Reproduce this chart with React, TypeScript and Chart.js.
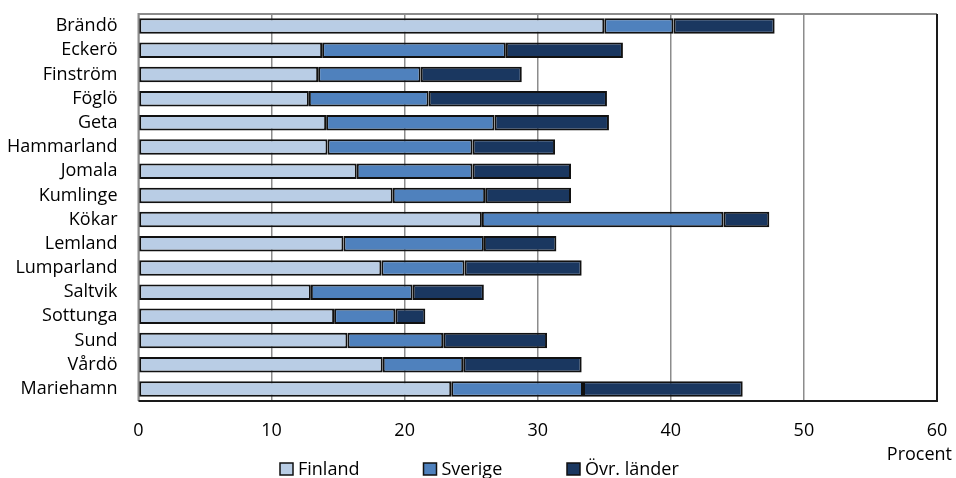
import React, { useEffect, useRef } from "react";
import { Chart, registerables } from "chart.js";

Chart.register(...registerables);

const categories = [
  "Brändö", "Eckerö", "Finström", "Föglö", "Geta", "Hammarland", "Jomala", "Kumlinge",
  "Kökar", "Lemland", "Lumparland", "Saltvik", "Sottunga", "Sund", "Vårdö", "Mariehamn",
];
const finland = [35.0, 13.8, 13.5, 12.8, 14.1, 14.2, 16.4, 19.1, 25.8, 15.4, 18.25, 12.95, 14.7, 15.7, 18.35, 23.5];
const sverige = [5.2, 13.8, 7.7, 9.0, 12.65, 10.9, 8.7, 6.95, 18.15, 10.55, 6.25, 7.65, 4.6, 7.2, 6.05, 9.9];
const ovrLander = [7.6, 8.8, 7.6, 13.4, 8.6, 6.2, 7.4, 6.45, 3.45, 5.45, 8.8, 5.35, 2.25, 7.8, 8.9, 12.0];
const seriesNames = ["Finland", "Sverige", "Övr. länder"];
const seriesColors = ["#b9cde5", "#4f81bd", "#1a3760"];
const xTicks = [0, 10, 20, 30, 40, 50, 60];
const axisTitle = "Procent";

const FONT = "'Open Sans', sans-serif";
const FONT_SIZE = 18;

const extras = {
  id: "extras",
  beforeDatasetsDraw(chart: any) {
    const { ctx, chartArea: a } = chart;
    ctx.save();
    ctx.lineWidth = 2;
    ctx.strokeStyle = "#8c8c8c";
    ctx.beginPath();
    ctx.moveTo(a.left, a.bottom);
    ctx.lineTo(a.left, a.top);
    ctx.lineTo(a.right, a.top);
    ctx.stroke();
    ctx.strokeStyle = "#1a1a1a";
    ctx.beginPath();
    ctx.moveTo(a.right, a.top);
    ctx.lineTo(a.right, a.bottom);
    ctx.lineTo(a.left, a.bottom);
    ctx.stroke();
    ctx.restore();
  },
  afterDraw(chart: any) {
    const { ctx, chartArea: a } = chart;
    ctx.save();
    ctx.font = `${FONT_SIZE}px ${FONT}`;
    ctx.fillStyle = "#000";
    ctx.textBaseline = "middle";
    ctx.textAlign = "right";
    ctx.fillText(axisTitle, a.right + 15, 455);
    ctx.textAlign = "left";
    const startX = 280;
    const gap = 143.5;
    seriesNames.forEach((name, i) => {
      const x = startX + i * gap;
      ctx.fillStyle = seriesColors[i];
      ctx.fillRect(x, 463, 13, 12);
      ctx.strokeStyle = "#111";
      ctx.lineWidth = 1.5;
      ctx.strokeRect(x, 463, 13, 12);
      ctx.fillStyle = "#000";
      ctx.fillText(name, x + 18, 470);
    });
    ctx.restore();
  },
};

export default function App() {
  const ref = useRef<HTMLCanvasElement>(null);
  useEffect(() => {
    if (!ref.current) return;
    const chart = new Chart(ref.current, {
      type: "bar",
      data: {
        labels: categories,
        datasets: [finland, sverige, ovrLander].map((d, i) => ({
          label: seriesNames[i],
          data: d,
          backgroundColor: seriesColors[i],
          borderColor: "#111111",
          borderWidth: 2,
          borderSkipped: false,
          categoryPercentage: 1,
          barPercentage: 0.64,
        })),
      },
      options: {
        indexAxis: "y",
        animation: false,
        responsive: false,
        layout: { padding: { top: 14, right: 19, left: 0, bottom: 0 } },
        plugins: { legend: { display: false }, tooltip: { enabled: false } },
        scales: {
          x: {
            stacked: true,
            min: 0,
            max: 60,
            afterBuildTicks: (s: any) => {
              s.ticks = xTicks.map((v) => ({ value: v }));
            },
            afterFit: (s: any) => {
              s.height = 77;
              s.paddingLeft = 0;
              s.paddingRight = 0;
            },
            grid: { color: "#8c8c8c", lineWidth: 1.5, drawTicks: false },
            border: { display: false },
            ticks: {
              padding: 19,
              color: "#000",
              font: { family: FONT, size: FONT_SIZE },
              maxRotation: 0,
            },
          },
          y: {
            stacked: true,
            afterFit: (s: any) => {
              s.width = 138.5;
              s.paddingTop = 0;
              s.paddingBottom = 0;
            },
            grid: { display: false, drawTicks: false },
            border: { display: false },
            ticks: {
              autoSkip: false,
              padding: 21,
              color: "#000",
              font: { family: FONT, size: FONT_SIZE },
            },
          },
        },
      },
      plugins: [extras],
    });
    return () => chart.destroy();
  }, []);
  return (
    <div style={{ position: "absolute", left: 0, top: 0, width: 956, height: 478, background: "#fff" }}>
      <canvas ref={ref} width={956} height={478} />
    </div>
  );
}
